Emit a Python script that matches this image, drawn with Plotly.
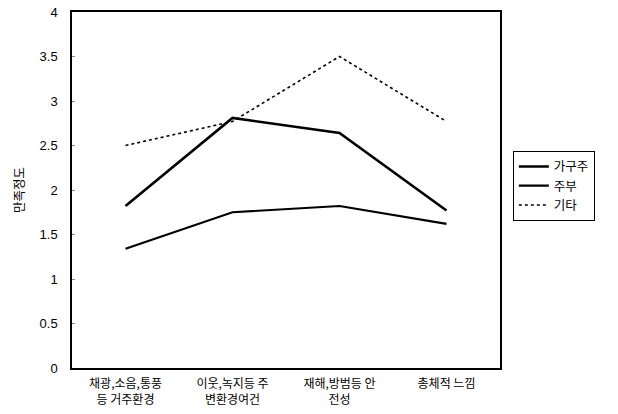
import plotly.graph_objects as go

categories = [
    "채광,소음,통풍<br>등 거주환경",
    "이웃,녹지등 주<br>변환경여건",
    "재해,방범등 안<br>전성",
    "총체적 느낌",
]
head = [1.82, 2.81, 2.64, 1.77]
housewife = [1.34, 1.75, 1.82, 1.62]
other = [2.50, 2.77, 3.50, 2.77]

y_ticks = [0, 0.5, 1, 1.5, 2, 2.5, 3, 3.5, 4]
y_labels = ["0", "0.5", "1", "1.5", "2", "2.5", "3", "3.5", "4"]

fig = go.Figure()
fig.add_trace(go.Scatter(x=categories, y=head, mode="lines", name="가구주",
                         line=dict(color="black", width=2.6)))
fig.add_trace(go.Scatter(x=categories, y=housewife, mode="lines", name="주부",
                         line=dict(color="black", width=2.2)))
fig.add_trace(go.Scatter(x=categories, y=other, mode="lines", name="기타",
                         line=dict(color="black", width=1.6, dash="dot")))

fig.update_layout(
    width=618, height=414,
    margin=dict(l=72, r=118, t=12, b=46),
    paper_bgcolor="white", plot_bgcolor="white",
    font=dict(family="Noto Sans CJK KR, Arial, sans-serif", color="black", size=12),
    showlegend=True,
    legend=dict(x=1.03, y=0.61, xanchor="left", yanchor="top",
                bordercolor="black", borderwidth=1, bgcolor="white",
                font=dict(size=12.5), tracegroupgap=0, itemwidth=30),
    xaxis=dict(
        type="category", showgrid=False, zeroline=False,
        showline=True, linecolor="black", linewidth=1.5, mirror=True,
        ticks="", tickfont=dict(size=12), ticklabelstandoff=4,
        automargin=False,
        range=[-0.5, 3.5],
    ),
    yaxis=dict(
        range=[0, 4], tickvals=y_ticks, ticktext=y_labels,
        showgrid=False, zeroline=False,
        showline=True, linecolor="black", linewidth=1.5, mirror=True,
        ticks="inside", ticklen=3, tickcolor="#888",
        ticklabelstandoff=10, automargin=False,
        tickfont=dict(family="Arial, Liberation Sans, sans-serif", size=13),
        title=dict(text="만족정도", font=dict(size=12.5), standoff=12),
    ),
)

fig.write_html("out.html")
